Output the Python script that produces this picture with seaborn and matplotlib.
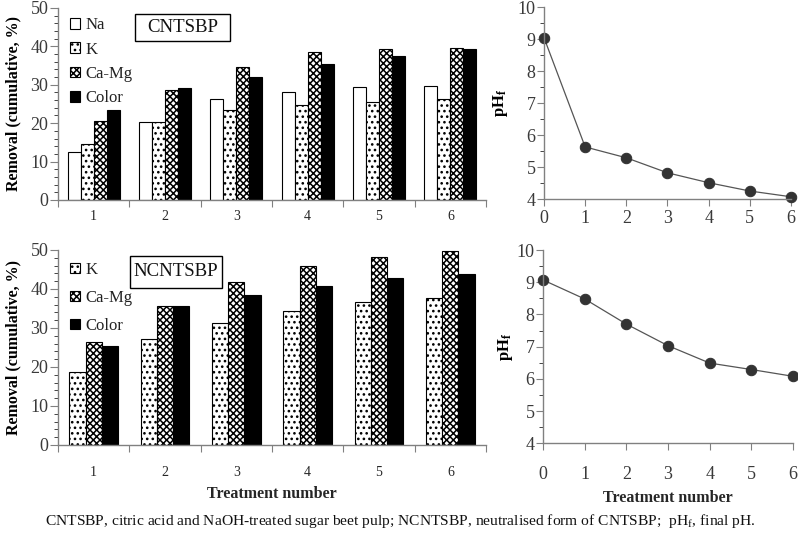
import pandas as pd
import matplotlib
matplotlib.use("Agg")
import matplotlib.pyplot as plt
from matplotlib.patches import Rectangle
import seaborn as sns
import numpy as np

# data
treatments = ["1", "2", "3", "4", "5", "6"]

na_cnt = [12.4, 20.3, 26.2, 28.0, 29.3, 29.8]
k_cnt = [14.5, 20.3, 23.5, 24.7, 25.4, 26.2]
camg_cnt = [20.6, 28.6, 34.6, 38.6, 39.2, 39.6]
color_cnt = [23.4, 29.1, 32.1, 35.5, 37.5, 39.2]

k_ncnt = [18.6, 27.1, 31.4, 34.4, 36.7, 37.6]
camg_ncnt = [26.4, 35.6, 41.8, 45.9, 48.1, 49.8]
color_ncnt = [25.5, 35.6, 38.5, 40.7, 42.8, 43.8]

ph_steps = [0, 1, 2, 3, 4, 5, 6]
ph_cnt = [9.05, 5.63, 5.29, 4.82, 4.51, 4.25, 4.07]
ph_ncnt = [9.07, 8.48, 7.70, 7.03, 6.49, 6.29, 6.08]

sns.set_style("ticks")
plt.rcParams["font.family"] = ["Liberation Serif", "DejaVu Serif"]
plt.rcParams["mathtext.fontset"] = "stix"
plt.rcParams["hatch.linewidth"] = 1.1

GRID = "#808080"
TXT = "#3a3a3a"

hatch_of = {"Na": "", "K": "...", "Ca-Mg": "xxxxx", "Color": ""}
face_of = {"Na": "white", "K": "white", "Ca-Mg": "white", "Color": "black"}


def long_df(series):
    rows = []
    for name, vals in series.items():
        for t, v in zip(treatments, vals):
            rows.append({"treatment": t, "ion": name, "removal": v})
    return pd.DataFrame(rows)


def style_axes(ax):
    sns.despine(ax=ax)
    for s in ["left", "bottom"]:
        ax.spines[s].set_color(GRID)
        ax.spines[s].set_linewidth(1.0)
    ax.tick_params(colors=GRID, labelcolor=TXT, labelsize=13)


def bar_panel(ax, series, width, tag, tag_box, leg_anchor, leg_space, label_pad):
    df = long_df(series)
    names = list(series.keys())
    sns.barplot(data=df, x="treatment", y="removal", hue="ion", hue_order=names,
                palette=[face_of[n] for n in names], width=width, errorbar=None,
                edgecolor="black", linewidth=0.8, saturation=1, legend=False, ax=ax)
    for name, cont in zip(names, ax.containers):
        for p in cont.patches:
            p.set_facecolor(face_of[name])
            p.set_hatch(hatch_of[name])
            p.set_edgecolor("black")
    handles = [cont.patches[0] for cont in ax.containers]
    leg = ax.legend(handles, names, loc="upper left", bbox_to_anchor=leg_anchor,
                    frameon=False, prop={"family": "Liberation Serif", "size": 12},
                    handlelength=0.6, handleheight=0.6, handletextpad=0.35,
                    labelspacing=leg_space, borderaxespad=0, borderpad=0)
    for t in leg.get_texts():
        t.set_color("#222222")
    # label box (x0, y0, x1, y1 in axes fraction)
    x0, y0, x1, y1 = tag_box
    ax.add_patch(Rectangle((x0, y0), x1 - x0, y1 - y0, transform=ax.transAxes,
                           facecolor="white", edgecolor="black", linewidth=1.0, zorder=5))
    ax.text((x0 + x1) / 2, (y0 + y1) / 2, tag, transform=ax.transAxes, ha="center",
            va="center", fontsize=13.5, color="#111111", zorder=6)

    ax.set_xlim(-0.5, 5.5)
    ax.set_ylim(0, 50)
    ax.set_yticks(np.arange(0, 51, 10))
    ax.set_yticks(np.arange(0, 51, 2), minor=True)
    ax.set_xticks(np.arange(-0.5, 6, 1))
    ax.set_xticklabels([])
    ax.set_xticks(np.arange(0, 6), minor=True)
    ax.set_xticklabels(treatments, minor=True)
    style_axes(ax)
    ax.tick_params(axis="x", which="major", length=5, direction="out")
    ax.tick_params(axis="x", which="minor", length=0, pad=label_pad)
    ax.tick_params(axis="y", which="major", length=6, pad=1)
    ax.tick_params(axis="y", which="minor", length=3)
    ax.set_ylabel("Removal (cumulative, %)", fontsize=11.5, fontweight="bold", color="black")
    ax.yaxis.set_label_coords(-0.085, 0.5)
    ax.set_xlabel("")


def ph_panel(ax, vals, label_pad, ylab_x):
    ph_df = pd.DataFrame({"step": ph_steps, "ph": vals})
    sns.lineplot(data=ph_df, x="step", y="ph", color="#555555", linewidth=0.9,
                 marker="o", markersize=7.5, markerfacecolor="#333333",
                 markeredgecolor="#333333", clip_on=False, ax=ax)
    ax.set_xlim(0, 6)
    ax.set_ylim(4, 10)
    ax.set_xticks(ph_steps)
    ax.set_yticks(np.arange(4, 11, 1))
    ax.set_yticks(np.arange(4, 10.01, 0.5), minor=True)
    style_axes(ax)
    ax.tick_params(axis="x", which="major", length=5, pad=label_pad)
    ax.tick_params(axis="y", which="major", length=5, pad=1)
    ax.tick_params(axis="y", which="minor", length=3)
    ax.set_ylabel("pH$_\\mathregular{f}$", fontsize=12, fontweight="bold", color="black")
    ax.yaxis.set_label_coords(ylab_x, 0.5)
    ax.set_xlabel("")


fig = plt.figure(figsize=(7.98, 5.38), dpi=100)
ax1 = fig.add_axes([0.0727, 0.6283, 0.5363, 0.3569])
ax2 = fig.add_axes([0.6817, 0.6301, 0.3095, 0.3563])
ax3 = fig.add_axes([0.0727, 0.1729, 0.5363, 0.3625])
ax4 = fig.add_axes([0.6805, 0.1760, 0.3133, 0.3593])

bar_panel(ax1, {"Na": na_cnt, "K": k_cnt, "Ca-Mg": camg_cnt, "Color": color_cnt},
          0.73, "CNTSBP", (0.180, 0.828, 0.402, 0.969), (0.028, 0.952), 0.5, 7)
bar_panel(ax3, {"K": k_ncnt, "Ca-Mg": camg_ncnt, "Color": color_ncnt},
          0.68, "NCNTSBP", (0.168, 0.804, 0.383, 0.971), (0.028, 0.938), 0.72, 15)

ph_panel(ax2, ph_cnt, 3, -0.138)
ph_panel(ax4, ph_ncnt, 11.5, -0.112)

ax3.set_xlabel("Treatment number", fontsize=11.5, fontweight="bold", labelpad=5)
ax4.set_xlabel("Treatment number", fontsize=11.5, fontweight="bold", labelpad=5)

fig.text(45 / 798, 1 - 521 / 538,
         "CNTSBP, citric acid and NaOH-treated sugar beet pulp; NCNTSBP, neutralised form of CNTSBP;  "
         "pH$_\\mathregular{f}$, final pH.",
         fontsize=11.15, color="#111111", ha="left", va="center")

fig.savefig("out.png", dpi=100)
